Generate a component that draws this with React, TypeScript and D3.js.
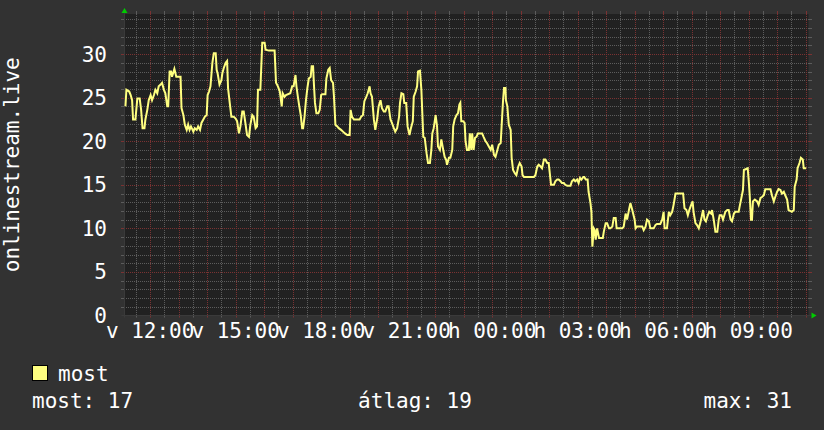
import React from 'react';
import * as d3 from 'd3';

// ---- data (minutes since window start, value) ----
const minutes = [
  2, 4, 10, 13, 16, 18, 23, 27, 32, 35, 38, 42, 44, 48, 51, 55, 58, 62, 65, 69, 72, 76, 79, 83, 86, 90, 92, 95, 98, 100,
  105, 109, 118, 120, 124, 127, 131, 134, 137, 140, 145, 148, 152, 155, 159, 162, 166, 169, 173, 175, 178, 181, 185, 188,
  192, 194, 196, 200, 204, 206, 209, 213, 216, 218, 222, 225, 230, 234, 237, 241, 244, 248, 251, 255, 258, 262, 265, 269,
  272, 276, 279, 281, 286, 290, 295, 297, 304, 316, 319, 323, 327, 331, 333, 337, 340,
  349, 353, 356, 360, 362, 365, 368, 371, 374, 376, 379, 382, 385, 388, 392, 394, 397, 399, 401, 404, 408, 411, 414, 416,
  423, 425, 429, 432, 435, 439, 441, 444, 448, 451, 456, 460, 464, 469, 474, 476, 479, 483, 495, 498, 502, 505, 509, 512,
  516, 518, 521, 525, 528, 532, 535, 539, 542, 546, 549, 553, 556, 560, 563, 567, 570, 574, 578, 580, 583, 587, 589, 593,
  596, 600, 603, 607, 609, 613, 616, 618, 622, 625, 627, 629, 632, 636, 639, 643, 646, 648, 651, 655, 658, 660, 664, 667,
  671, 674, 677, 679, 683, 686, 690, 692, 695, 699, 702, 705,
  707, 709, 713, 716, 718, 721, 725, 727, 730, 732, 735, 738, 741, 744, 753, 756, 760, 763, 767, 771, 774, 778, 781, 785,
  788, 792, 795, 797, 799, 802, 803, 806, 809, 813, 815, 818, 822, 825, 829, 832, 836, 838, 841, 862, 865, 869, 872, 876,
  879, 883, 886, 890, 893, 895, 898, 904, 907, 911, 914, 918, 921, 925, 928, 932, 939, 942, 946, 949, 953, 956, 959, 962,
  966, 968, 971, 975, 977, 981, 983, 985, 988, 990, 992, 995, 999, 1002, 1007, 1009, 1013, 1016, 1020, 1023, 1027, 1030,
  1034, 1036, 1041, 1048, 1051, 1055, 1058, 1062,
  1065, 1069, 1074, 1076, 1079, 1090, 1093, 1097, 1100, 1104, 1107, 1114, 1118, 1121, 1128, 1132, 1135, 1137, 1142, 1146,
  1149, 1153, 1156, 1160, 1176, 1179, 1183, 1186, 1189, 1193, 1196, 1198, 1202, 1205, 1209, 1212, 1215, 1218, 1221, 1224,
  1228, 1231, 1235, 1237, 1241, 1244, 1248, 1251, 1253, 1257, 1260, 1265, 1269, 1272, 1276, 1279, 1283, 1286, 1293, 1295,
  1298, 1302, 1304, 1312, 1314, 1316, 1319, 1321, 1323, 1327, 1332, 1335, 1339, 1342, 1346, 1349, 1360, 1363, 1367, 1370,
  1374, 1377, 1381, 1384, 1388, 1391, 1395, 1398, 1405, 1409, 1411, 1415, 1417, 1421, 1424, 1428, 1430, 1435,
];

const values = [
  24.0, 25.9, 25.7, 25.3, 24.7, 22.5, 22.5, 24.9, 24.9, 23.6, 21.5, 21.5, 22.5, 23.6, 24.7, 25.3, 24.7, 25.3, 25.9, 25.5,
  26.3, 26.5, 26.7, 25.9, 25.5, 24.0, 24.0, 28.0, 28.0, 27.4, 28.3, 27.4, 27.4, 23.8, 23.0, 21.9, 21.3, 21.9, 21.3, 21.7,
  21.1, 21.5, 21.3, 21.7, 21.3, 22.1, 22.5, 22.8, 23.0, 25.3, 25.7, 26.3, 29.0, 30.1, 30.1, 28.2, 27.8, 26.5, 27.0, 27.8,
  28.4, 29.0, 29.2, 26.1, 24.2, 22.8, 22.8, 22.6, 22.3, 20.9, 21.7, 23.4, 23.4, 21.9, 20.7, 20.5, 21.9, 23.0, 22.8, 21.5,
  21.7, 25.9, 25.9, 31.3, 31.3, 30.5, 30.4, 30.4, 26.7, 26.3, 25.7, 24.0, 25.5, 25.1, 25.3,
  25.5, 26.3, 26.3, 27.6, 26.3, 25.1, 24.0, 23.0, 21.5, 21.5, 22.8, 24.7, 26.1, 27.2, 27.4, 28.6, 28.6, 26.3, 24.4, 23.2,
  23.2, 23.6, 25.3, 25.4, 25.4, 27.2, 28.2, 28.4, 27.0, 26.7, 25.1, 21.9, 21.7, 21.5, 21.3, 21.1, 20.9, 20.7, 20.7, 23.6,
  22.8, 22.5, 22.5, 22.8, 23.0, 24.6, 25.1, 25.5, 26.3, 25.5, 25.1, 22.5, 21.3, 22.6, 24.0, 24.7, 23.8, 23.4, 23.4, 24.0,
  24.0, 22.5, 22.1, 21.5, 21.1, 21.5, 22.8, 24.4, 25.5, 25.4, 24.4, 24.4, 21.7, 20.7, 21.5, 22.3, 25.1, 25.7, 26.3, 28.0,
  28.1, 25.9, 23.2, 20.5, 20.4, 18.6, 17.5, 17.5, 19.0, 20.9, 21.5, 23.0, 21.7, 19.4, 19.0, 20.2, 19.0, 18.2, 17.9, 17.3,
  18.1, 18.1, 19.0, 21.7, 22.5, 23.0, 23.2, 24.2,
  24.4, 22.3, 22.3, 22.1, 20.0, 19.0, 19.0, 20.9, 19.0, 20.9, 19.0, 20.4, 20.5, 20.9, 20.9, 20.5, 20.0, 19.8, 19.4, 19.0,
  19.6, 18.4, 18.2, 19.0, 19.6, 19.8, 22.8, 24.7, 26.1, 26.1, 24.7, 24.0, 21.9, 21.3, 18.1, 16.7, 16.3, 16.1, 17.1, 17.5,
  17.1, 16.1, 15.9, 15.9, 16.1, 17.1, 17.3, 17.1, 16.9, 17.9, 17.9, 17.5, 17.5, 16.5, 15.0, 15.0, 15.4, 15.6, 15.6, 15.4,
  15.2, 15.2, 15.0, 14.9, 14.9, 15.4, 15.6, 15.4, 15.6, 15.2, 15.8, 15.6, 15.9, 15.9, 15.6, 15.6, 14.2, 12.9, 11.9, 7.9,
  10.0, 9.8, 8.7, 10.0, 8.9, 8.9, 8.9, 9.6, 10.6, 10.6, 10.0, 10.0, 10.2, 11.2, 11.2, 10.0, 10.0, 10.0, 10.2, 11.7,
  11.0, 12.1,
  12.9, 12.1, 11.0, 10.0, 10.2, 10.2, 9.8, 10.2, 11.0, 10.8, 10.0, 10.0, 10.4, 10.5, 10.5, 11.0, 11.9, 10.0, 10.0, 11.9,
  11.5, 11.9, 12.7, 14.0, 14.0, 12.3, 12.1, 11.5, 12.1, 12.7, 13.1, 11.9, 10.6, 10.4, 10.0, 10.6, 11.3, 12.1, 11.0, 10.8,
  11.5, 11.9, 11.7, 12.1, 10.8, 9.6, 9.6, 11.0, 11.5, 11.5, 11.0, 11.9, 12.1, 12.1, 11.0, 10.8, 11.7, 11.9, 11.9, 12.5,
  13.3, 14.4, 16.7, 16.9, 15.6, 14.0, 11.0, 11.0, 13.1, 13.3, 13.1, 12.7, 13.5, 13.6, 13.8, 14.5, 14.5, 13.8, 13.1, 13.6,
  14.2, 14.5, 14.4, 14.0, 14.2, 13.8, 13.3, 12.1, 11.9, 12.1, 14.8, 15.6, 16.9, 17.5, 18.1, 17.9, 16.9, 16.9,
];

const yTicks = [0, 5, 10, 15, 20, 25, 30];
const yMax = 34.6;
const dayAbbr = ['v', 'h', 'k', 'sze', 'cs', 'p', 'szo'];
const windowStart = new Date(2024, 0, 7, 11, 6); // Sunday 11:06
const windowHours = 24;
const labelEveryHours = 3;
const yTitle = 'onlinestream.live';
const seriesName = 'most';
const statLabels = ['most', 'átlag', 'max'];
const statValues = [17, 19, 31];

// ---- layout ----
const W = 824;
const H = 430;
const L = 124.5;
const R = 808.5;
const T = 14;
const B = 315.5;
const FONT = '"DejaVu Sans Mono", monospace';
const BG = '#323232';
const PLOT_BG = '#212121';
const MINOR = '#5c5c5c';
const MAJOR = '#7a3232';
const LINE = '#ffff80';
const ARROW = '#00cc00';

export default function App() {
  const end = d3.timeHour.offset(windowStart, windowHours);
  const x = d3.scaleTime().domain([windowStart, end]).range([L, R]);
  const y = d3.scaleLinear().domain([0, yMax]).range([B, T]);

  const data = minutes.map((m, i) => ({ t: d3.timeMinute.offset(windowStart, m), v: values[i] }));
  const linePath = d3
    .line<{ t: Date; v: number }>()
    .x((d) => x(d.t))
    .y((d) => y(d.v))(data) as string;

  const halfHours = d3.timeMinute.every(30)!.range(windowStart, end);
  const minorV = halfHours.filter((d) => d.getMinutes() !== 0);
  const majorV = halfHours.filter((d) => d.getMinutes() === 0);
  const labelTicks = majorV.filter((d) => d.getHours() % labelEveryHours === 0);
  const hm = d3.timeFormat('%H:%M');
  const fmt = (d: Date) => `${dayAbbr[d.getDay()]} ${hm(d)}`;

  const hVals = d3.range(1, Math.floor(yMax) + 1);
  const minorH = hVals.filter((v) => v % 5 !== 0);
  const majorH = hVals.filter((v) => v % 5 === 0);

  const vx = (d: Date) => Math.round(x(d)) + 0.5;
  const hy = (v: number) => Math.round(y(v)) + 0.5;
  const gl = Math.floor(L);
  const gr = Math.ceil(R);

  return (
    <svg
      width={W}
      height={H}
      style={{ position: 'absolute', left: 0, top: 0, display: 'block' }}
      fontFamily={FONT}
    >
      <rect x={0} y={0} width={W} height={H} fill={BG} />
      <rect x={L} y={T} width={R - L} height={B - T} fill={PLOT_BG} />

      {/* minor grid */}
      {minorH.map((v) => (
        <g key={'mh' + v}>
          <line x1={gl} x2={gr} y1={hy(v)} y2={hy(v)} stroke={MINOR} strokeDasharray="1,1" />
          <line x1={gl - 3} x2={gl} y1={hy(v)} y2={hy(v)} stroke={MINOR} />
          <line x1={gr} x2={gr + 3} y1={hy(v)} y2={hy(v)} stroke={MINOR} />
        </g>
      ))}
      {minorV.map((d) => (
        <g key={'mv' + d.getTime()}>
          <line x1={vx(d)} x2={vx(d)} y1={T} y2={B} stroke={MINOR} strokeDasharray="1,1" />
          <line x1={vx(d)} x2={vx(d)} y1={T - 3} y2={T} stroke={MINOR} />
          <line x1={vx(d)} x2={vx(d)} y1={B} y2={B + 2} stroke={MINOR} />
        </g>
      ))}
      {/* major grid */}
      {majorH.map((v) => (
        <g key={'Mh' + v}>
          <line x1={gl} x2={gr} y1={hy(v)} y2={hy(v)} stroke={MAJOR} strokeDasharray="1,1" />
          <line x1={gl - 3} x2={gl} y1={hy(v)} y2={hy(v)} stroke={MAJOR} />
          <line x1={gr} x2={gr + 3} y1={hy(v)} y2={hy(v)} stroke={MAJOR} />
        </g>
      ))}
      {majorV.map((d) => (
        <g key={'Mv' + d.getTime()}>
          <line x1={vx(d)} x2={vx(d)} y1={T} y2={B} stroke={MAJOR} strokeDasharray="1,1" />
          <line x1={vx(d)} x2={vx(d)} y1={T - 3} y2={T} stroke={MAJOR} />
          <line x1={vx(d)} x2={vx(d)} y1={B} y2={B + 2} stroke={MAJOR} />
        </g>
      ))}

      {/* axes */}
      <line x1={L - 3} x2={R + 3} y1={B} y2={B} stroke="#3a3a3a" />
      <line x1={L} x2={L} y1={T - 3} y2={B + 2} stroke="#3a3a3a" />
      <polygon points={`${L},${T - 6} ${L - 3},${T - 1} ${L + 3},${T - 1}`} fill={ARROW} />
      <polygon points={`${R + 8},${B} ${R + 3},${B - 3} ${R + 3},${B + 3}`} fill={ARROW} />

      {/* data line */}
      <path d={linePath} fill="none" stroke={LINE} strokeWidth={2} strokeLinejoin="miter" />

      {/* y labels */}
      {yTicks.map((v) => (
        <text key={'yl' + v} x={107} y={y(v) + 7.5} textAnchor="end" fontSize={21} fill="#ffffff">
          {v}
        </text>
      ))}
      {/* x labels */}
      {labelTicks.map((d) => (
        <text key={'xl' + d.getTime()} x={x(d)} y={338} textAnchor="middle" fontSize={21} fill="#ffffff">
          {fmt(d)}
        </text>
      ))}

      {/* title */}
      <text
        transform={`translate(18.5, ${(T + B) / 2}) rotate(-90)`}
        textAnchor="middle"
        fontSize={21}
        fill="#ffffff"
      >
        {yTitle}
      </text>

      {/* legend */}
      <rect x={32.5} y={365.5} width={15} height={15} fill={LINE} stroke="#000000" />
      <text x={58} y={381} fontSize={21} fill="#ffffff">
        {seriesName}
      </text>
      <text x={32} y={408} fontSize={21} fill="#ffffff">
        {`${statLabels[0]}: ${statValues[0]}`}
      </text>
      <text x={415} y={408} textAnchor="middle" fontSize={21} fill="#ffffff">
        {`${statLabels[1]}: ${statValues[1]}`}
      </text>
      <text x={792} y={408} textAnchor="end" fontSize={21} fill="#ffffff">
        {`${statLabels[2]}: ${statValues[2]}`}
      </text>
    </svg>
  );
}
